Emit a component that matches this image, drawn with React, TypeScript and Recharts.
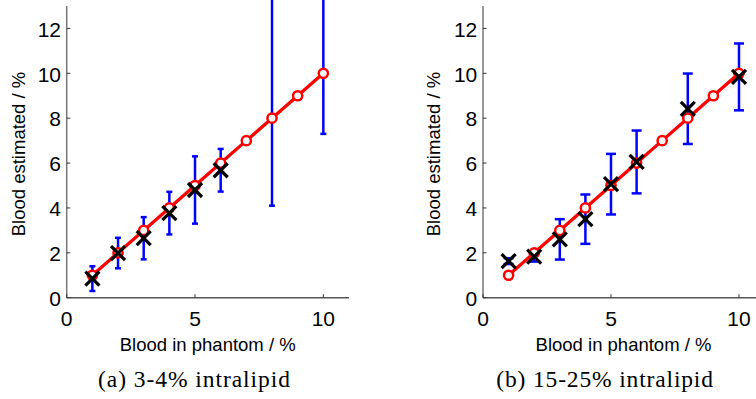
import React from 'react';
import { ScatterChart, Scatter, XAxis, YAxis, ErrorBar } from 'recharts';

// ---- data ----
const phantom = [1, 2, 3, 4, 5, 6, 7, 8, 9, 10];
const ideal = [1, 2, 3, 4, 5, 6, 7, 8, 9, 10];

const measuredXA = [1, 2, 3, 4, 5, 6, 8, 10];
const estimatedA = [0.85, 1.99, 2.65, 3.77, 4.8, 5.68, 14.5, 14];
const errorA = [0.55, 0.68, 0.94, 0.95, 1.5, 0.95, 10.4, 6.7];

const measuredXB = [1, 2, 3, 4, 5, 6, 8, 10];
const estimatedB = [1.63, 1.83, 2.6, 3.5, 5.06, 6.05, 8.42, 9.84];
const errorB = [0.13, 0.22, 0.9, 1.1, 1.35, 1.4, 1.57, 1.49];

const xTicks = [0, 5, 10];
const yTicks = [0, 2, 4, 6, 8, 10, 12];
const xTitle = 'Blood in phantom / %';
const yTitle = 'Blood estimated / %';
const captionA = '(a) 3-4% intralipid';
const captionB = '(b) 15-25% intralipid';

const idealData = phantom.map((x, i) => ({ x, y: ideal[i] }));
const dataA = measuredXA.map((x, i) => ({ x, y: estimatedA[i], err: errorA[i] }));
const dataB = measuredXB.map((x, i) => ({ x, y: estimatedB[i], err: errorB[i] }));

const SANS = '"Liberation Sans", Arial, Helvetica, sans-serif';
const SERIF = '"Liberation Serif", "Times New Roman", serif';

const XTick = (p: any) => {
  const { x, y, payload } = p;
  return (
    <g>
      <line x1={x} x2={x} y1={y} y2={y - 3.5} stroke="#333" strokeWidth={1} />
      <text x={x} y={y + 27.8} textAnchor="middle" fontSize={21} fontFamily={SANS} fill="#000">
        {payload.value}
      </text>
    </g>
  );
};

const YTick = (p: any) => {
  const { x, y, payload } = p;
  return (
    <g>
      <line x1={x} x2={x + 3.5} y1={y} y2={y} stroke="#333" strokeWidth={1} />
      <text x={x - 5.7} y={y + 8.2} textAnchor="end" fontSize={21} fontFamily={SANS} fill="#000">
        {payload.value}
      </text>
    </g>
  );
};

const Circle = (p: any) => {
  const { cx, cy } = p;
  return <circle cx={cx} cy={cy} r={4.6} fill="#fff" stroke="#ff0000" strokeWidth={2.5} />;
};

const Cross = (p: any) => {
  const { cx, cy } = p;
  const s = 7;
  return (
    <g>
      <line x1={cx - s} y1={cy - s} x2={cx + s} y2={cy + s} stroke="#000" strokeWidth={3.2} />
      <line x1={cx - s} y1={cy + s} x2={cx + s} y2={cy - s} stroke="#000" strokeWidth={3.2} />
    </g>
  );
};

const Empty = () => <g />;

const Panel = ({ data, width, yAxisWidth, right, cap }: any) => (
  <ScatterChart width={width} height={399} margin={{ top: 6, right, left: 0, bottom: 41.3 }}>
    <XAxis
      type="number"
      dataKey="x"
      domain={[0, 11]}
      ticks={xTicks}
      interval={0}
      allowDataOverflow
      height={60}
      tickSize={0}
      tickMargin={0}
      tickLine={false}
      axisLine={{ stroke: '#555', strokeWidth: 1.5 }}
      tick={(p: any) => <XTick {...p} />}
    />
    <YAxis
      type="number"
      dataKey="y"
      domain={[0, 13]}
      ticks={yTicks}
      interval={0}
      allowDataOverflow
      width={yAxisWidth}
      tickSize={0}
      tickMargin={0}
      tickLine={false}
      axisLine={{ stroke: '#777', strokeWidth: 1.5 }}
      tick={(p: any) => <YTick {...p} />}
    />
    <Scatter
      data={idealData}
      line={{ stroke: '#ff0000', strokeWidth: 3.3 }}
      lineType="joint"
      shape={(p: any) => <Circle {...p} />}
      isAnimationActive={false}
    />
    <Scatter data={data} shape={(p: any) => <Cross {...p} />} isAnimationActive={false} />
    <Scatter data={data} shape={() => <Empty />} isAnimationActive={false}>
      <ErrorBar dataKey="err" direction="y" width={cap} stroke="#0000ff" strokeWidth={2.5} isAnimationActive={false} />
    </Scatter>
  </ScatterChart>
);

export default function App() {
  return (
    <div
      style={{
        position: 'absolute',
        left: 0,
        top: 0,
        width: 756,
        height: 399,
        overflow: 'hidden',
        background: '#fff',
      }}
    >
      <div style={{ position: 'absolute', left: 0, top: 0 }}>
        <Panel data={dataA} width={378} yAxisWidth={66.7} right={29} cap={3} />
      </div>
      <div style={{ position: 'absolute', left: 378, top: 0 }}>
        <Panel data={dataB} width={400} yAxisWidth={105} right={13.4} cap={5} />
      </div>
      <svg
        width={756}
        height={399}
        style={{ position: 'absolute', left: 0, top: 0, pointerEvents: 'none' }}
      >
        <text x={207.7} y={350.5} textAnchor="middle" fontSize={18.5} fontFamily={SANS} fill="#000">
          {xTitle}
        </text>
        <text x={623.5} y={350.5} textAnchor="middle" fontSize={18.5} fontFamily={SANS} fill="#000">
          {xTitle}
        </text>
        <text
          transform="translate(24.5,154) rotate(-90)"
          textAnchor="middle"
          fontSize={18.5}
          fontFamily={SANS}
          fill="#000"
        >
          {yTitle}
        </text>
        <text
          transform="translate(439.5,154) rotate(-90)"
          textAnchor="middle"
          fontSize={18.5}
          fontFamily={SANS}
          fill="#000"
        >
          {yTitle}
        </text>
        <text
          x={98}
          y={387}
          fontSize={23.5}
          fontFamily={SERIF}
          fill="#000"
          textLength={192}
          lengthAdjust="spacing"
        >
          {captionA}
        </text>
        <text
          x={496.3}
          y={387}
          fontSize={23.5}
          fontFamily={SERIF}
          fill="#000"
          textLength={216.7}
          lengthAdjust="spacing"
        >
          {captionB}
        </text>
      </svg>
    </div>
  );
}
